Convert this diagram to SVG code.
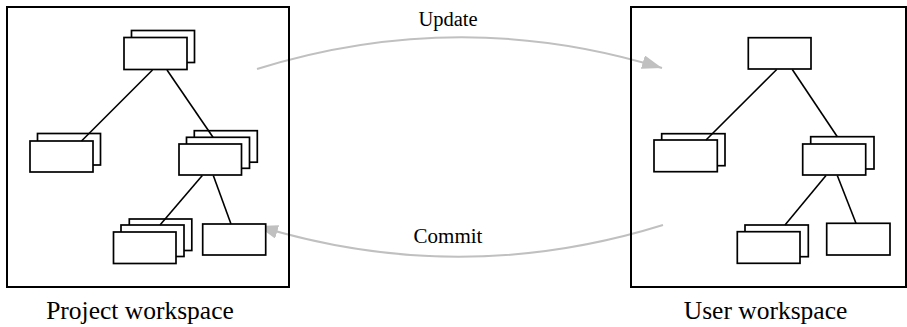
<svg xmlns="http://www.w3.org/2000/svg" width="907" height="327" viewBox="0 0 907 327">
<style>
.n{fill:#fff;stroke:#000;stroke-width:1.7}
.e{stroke:#000;stroke-width:1.6;fill:none}
.ws{fill:none;stroke:#000;stroke-width:2}
.flow{fill:none;stroke:#c0c0c0;stroke-width:2}
text{font-family:'Liberation Serif','Times New Roman',serif;fill:#000;text-anchor:middle}
</style>
<defs>
<marker id="ah" viewBox="0 0 20 14" refX="20" refY="7" markerWidth="20" markerHeight="14" markerUnits="userSpaceOnUse" orient="auto">
<path d="M0,0 L20,7 L0,14 Z" fill="#c0c0c0"/>
</marker>
</defs>
<rect width="907" height="327" fill="#fff"/>
<g id="flows">
<path class="flow" d="M257,69 Q460,6 662,68" marker-end="url(#ah)"/>
<path class="flow" d="M663,225 Q460,288 258,226" marker-end="url(#ah)"/>
<text x="448" y="25.5" font-size="20.5" font-family="Liberation Serif, serif">Update</text>
<text x="448" y="243.3" font-size="21" font-family="Liberation Serif, serif">Commit</text>
</g>
<g id="project-workspace">
<rect class="ws" x="7" y="7" width="282" height="280"/>
<text x="140" y="319.3" font-size="25.5" font-family="Liberation Serif, serif">Project workspace</text>
</g>
<g id="user-workspace">
<rect class="ws" x="631" y="7" width="275" height="280"/>
<text x="765.5" y="319.3" font-size="25.5" font-family="Liberation Serif, serif">User workspace</text>
</g>
<g id="p1"><rect class="n" x="131.5" y="30.5" width="63" height="32"/><rect class="n" x="124" y="37.5" width="63" height="32"/></g>
<g id="p2"><rect class="n" x="37.5" y="133.5" width="63" height="31.5"/><rect class="n" x="30" y="141" width="63" height="31"/></g>
<g id="p3"><rect class="n" x="194.3" y="130.7" width="63" height="31.5"/><rect class="n" x="186.5" y="137.3" width="63" height="31"/><rect class="n" x="179" y="144" width="62.5" height="31"/></g>
<g id="p4"><rect class="n" x="129.3" y="219" width="62.5" height="31.5"/><rect class="n" x="121" y="225" width="63" height="31.5"/><rect class="n" x="113.5" y="232" width="62.5" height="31.5"/></g>
<g id="p5"><rect class="n" x="202.7" y="224" width="63" height="31"/></g>
<g id="u1"><rect class="n" x="748.3" y="37.7" width="62.7" height="31.3"/></g>
<g id="u2"><rect class="n" x="661.7" y="133.7" width="63.3" height="32"/><rect class="n" x="654" y="140" width="63.3" height="31.7"/></g>
<g id="u3"><rect class="n" x="810.7" y="136.7" width="63.3" height="32.3"/><rect class="n" x="802.7" y="144" width="63" height="31"/></g>
<g id="u4"><rect class="n" x="745" y="225" width="63.3" height="31.7"/><rect class="n" x="737.3" y="231.7" width="62.7" height="31.6"/></g>
<g id="u5"><rect class="n" x="826.7" y="223.3" width="63.3" height="31.7"/></g>
<g id="connectors">
<line class="e" x1="152.5" y1="70" x2="81.5" y2="141"/>
<line class="e" x1="167" y1="70" x2="213" y2="137.3"/>
<line class="e" x1="202.3" y1="175.5" x2="160" y2="225"/>
<line class="e" x1="213.3" y1="175.5" x2="231" y2="224"/>
<line class="e" x1="776.7" y1="69.5" x2="706" y2="140"/>
<line class="e" x1="792.3" y1="69.5" x2="837.3" y2="136.7"/>
<line class="e" x1="826" y1="175.5" x2="785" y2="225"/>
<line class="e" x1="837.3" y1="175.5" x2="856" y2="223.3"/>
</g>
</svg>
